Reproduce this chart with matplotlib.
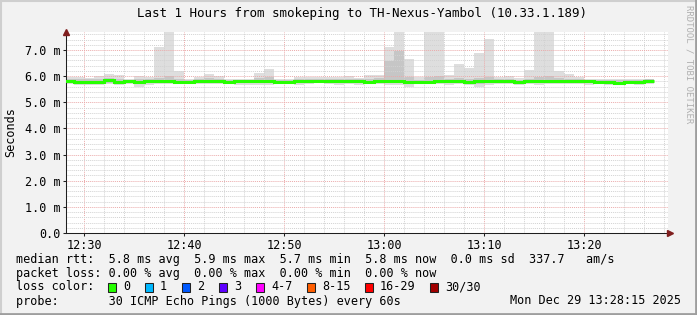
import numpy as np
import matplotlib.pyplot as plt
from matplotlib.lines import Line2D
from matplotlib.patches import Rectangle
from matplotlib.ticker import MultipleLocator

# one sample per minute, minutes counted from 12:30
start_min = np.arange(-2, 57)

# smoke: min/max of the 30 pings, plus the denser middle part
rtt_max = [5.95, 5.95, 5.93, 6.02, 6.08, 6.04, 5.88, 6.00, 5.95, 7.12,
           7.90, 6.20, 5.90, 5.96, 6.08, 6.02, 5.90, 5.88, 5.88, 6.12,
           6.28, 5.88, 5.90, 5.95, 5.97, 5.97, 5.97, 5.95, 6.00, 5.92,
           6.04, 6.06, 7.12, 7.90, 6.66, 5.95, 7.90, 7.90, 6.05, 6.46,
           6.31, 6.90, 7.42, 5.95, 6.00, 5.92, 6.24, 7.90, 7.90, 6.20,
           6.08, 5.96, 5.90, 5.90, 5.91, 5.88, 5.88, 5.90, 5.90]
rtt_hi = [5.88, 5.88, 5.88, 5.88, 5.92, 5.88, 5.87, 5.88, 5.88, 5.92,
          6.02, 5.90, 5.87, 5.88, 5.92, 5.88, 5.87, 5.87, 5.87, 5.92,
          5.95, 5.87, 5.87, 5.88, 5.90, 5.88, 5.88, 5.88, 5.90, 5.88,
          5.88, 5.92, 6.57, 6.95, 5.95, 5.87, 5.95, 6.00, 5.88, 5.92,
          5.88, 5.92, 5.95, 5.88, 5.88, 5.87, 5.90, 5.95, 6.00, 5.92,
          5.90, 5.88, 5.87, 5.87, 5.86, 5.84, 5.87, 5.87, 5.88]
rtt_med = [5.80, 5.78, 5.78, 5.79, 5.85, 5.77, 5.80, 5.79, 5.80, 5.80,
           5.80, 5.78, 5.79, 5.80, 5.80, 5.80, 5.79, 5.80, 5.80, 5.80,
           5.81, 5.79, 5.78, 5.80, 5.80, 5.81, 5.80, 5.80, 5.81, 5.80,
           5.79, 5.80, 5.80, 5.81, 5.79, 5.78, 5.79, 5.80, 5.80, 5.80,
           5.79, 5.80, 5.80, 5.80, 5.80, 5.79, 5.80, 5.82, 5.82, 5.82,
           5.82, 5.80, 5.80, 5.79, 5.77, 5.74, 5.78, 5.79, 5.80]
rtt_lo = [5.74, 5.73, 5.73, 5.73, 5.75, 5.72, 5.74, 5.72, 5.74, 5.74,
          5.74, 5.73, 5.74, 5.74, 5.74, 5.74, 5.74, 5.72, 5.72, 5.74,
          5.73, 5.74, 5.73, 5.74, 5.74, 5.75, 5.74, 5.74, 5.74, 5.73,
          5.74, 5.74, 5.74, 5.74, 5.70, 5.74, 5.74, 5.74, 5.74, 5.74,
          5.74, 5.70, 5.73, 5.74, 5.74, 5.73, 5.74, 5.75, 5.75, 5.75,
          5.75, 5.74, 5.74, 5.73, 5.71, 5.69, 5.73, 5.73, 5.74]
rtt_min = [5.70, 5.68, 5.68, 5.66, 5.70, 5.66, 5.70, 5.58, 5.68, 5.70,
           5.70, 5.70, 5.72, 5.70, 5.70, 5.70, 5.70, 5.66, 5.66, 5.68,
           5.66, 5.70, 5.70, 5.68, 5.70, 5.72, 5.70, 5.68, 5.70, 5.66,
           5.70, 5.70, 5.68, 5.68, 5.60, 5.70, 5.72, 5.70, 5.68, 5.70,
           5.68, 5.60, 5.66, 5.70, 5.70, 5.66, 5.70, 5.68, 5.70, 5.70,
           5.70, 5.70, 5.68, 5.70, 5.66, 5.66, 5.70, 5.68, 5.70]

x_ticks = [0, 10, 20, 30, 40, 50]
x_labels = ['12:30', '12:40', '12:50', '13:00', '13:10', '13:20']
y_ticks = [0, 1, 2, 3, 4, 5, 6, 7]
y_labels = ['0.0', '1.0 m', '2.0 m', '3.0 m', '4.0 m', '5.0 m', '6.0 m', '7.0 m']

loss_labels = ['0', '1', '2', '3', '4-7', '8-15', '16-29', '30/30']
loss_colors = ['#26ff00', '#00b8ff', '#0059ff', '#5e00ff', '#ff00ff',
               '#ff5e00', '#ff0000', '#a10000']
loss_box_x = [108, 145, 182, 219, 256, 307, 365, 430]   # pixel columns

W, H = 697, 315
MONO = 'DejaVu Sans Mono'
FS = 8.5

fig = plt.figure(figsize=(W / 100, H / 100), dpi=100, facecolor='#f2f2f2')
ax = fig.add_axes([66 / W, (H - 233) / H, 602 / W, 201 / H])
ax.set_facecolor('white')
ax.set_xlim(-1.8, 58.4)
ax.set_ylim(0, 7.69)

lo_arr = np.array(rtt_min)
ax.bar(start_min, np.array(rtt_max) - lo_arr, bottom=lo_arr, width=1,
       align='edge', color='#dedede', linewidth=0)
ax.bar(start_min, np.array(rtt_hi) - np.array(rtt_lo), bottom=rtt_lo, width=1,
       align='edge', color='#c6c6c6', linewidth=0)
edges = np.append(start_min, start_min[-1] + 1)
ax.stairs(rtt_med, edges, baseline=None, color=loss_colors[0], linewidth=2.2,
          zorder=3)

# grid in rrdtool style: dotted, drawn over the smoke
ax.set_axisbelow('line')
ax.set_xticks(x_ticks)
ax.set_xticklabels(x_labels)
ax.set_yticks(y_ticks)
ax.set_yticklabels(y_labels)
ax.xaxis.set_minor_locator(MultipleLocator(2))
ax.yaxis.set_minor_locator(MultipleLocator(0.2))
ax.grid(which='minor', color='#d2d2d2', linestyle=(0, (1, 1)), linewidth=0.7)
ax.grid(which='major', color='#ebaaaa', linestyle=(0, (1, 1)), linewidth=0.7)
ax.tick_params(which='major', length=2, width=0.75, color='#1f1f1f', pad=2.2,
               labelsize=FS)
ax.tick_params(which='minor', length=0)
for lab in ax.get_xticklabels() + ax.get_yticklabels():
    lab.set_family(MONO)

for s in ['top', 'right']:
    ax.spines[s].set_visible(False)
for s in ['left', 'bottom']:
    ax.spines[s].set_color('#1f1f1f')
    ax.spines[s].set_linewidth(0.75)

# axis arrows
ax.plot([-1.8], [7.69], marker='^', markersize=5, color='#801f1f',
        clip_on=False, zorder=5)
ax.plot([58.6], [0], marker='>', markersize=5, color='#801f1f',
        clip_on=False, zorder=5)

def fy(ypx):
    return 1 - ypx / H

fig.text(362 / W, fy(13.5), 'Last 1 Hours from smokeping to TH-Nexus-Yambol (10.33.1.189)',
         ha='center', va='center', family=MONO, fontsize=9)
fig.text(11 / W, fy(132), 'Seconds', rotation=90, ha='center', va='center',
         family=MONO, fontsize=FS)
fig.text(689 / W, fy(5), 'RRDTOOL / TOBI OETIKER', rotation=270, ha='center',
         va='top', family=MONO, fontsize=6.5, color='#b0b0b0')

fig.text(16 / W, fy(259),
         'median rtt:  5.8 ms avg  5.9 ms max  5.7 ms min  5.8 ms now  0.0 ms sd  337.7   am/s',
         va='center', family=MONO, fontsize=FS)
fig.text(16 / W, fy(273),
         'packet loss: 0.00 % avg  0.00 % max  0.00 % min  0.00 % now',
         va='center', family=MONO, fontsize=FS)
fig.text(16 / W, fy(287), 'loss color:', va='center', family=MONO, fontsize=FS)
for bx, lab, col in zip(loss_box_x, loss_labels, loss_colors):
    fig.add_artist(Rectangle((bx / W, fy(291.5)), 8 / W, 9 / H,
                             transform=fig.transFigure, facecolor=col,
                             edgecolor='#222222', linewidth=0.75))
    fig.text((bx + 15) / W, fy(287), lab, va='center', family=MONO, fontsize=FS)
fig.text(16 / W, fy(301),
         'probe:       30 ICMP Echo Pings (1000 Bytes) every 60s',
         va='center', family=MONO, fontsize=FS)
fig.text(681 / W, fy(301), 'Mon Dec 29 13:28:15 2025', ha='right',
         va='center', family=MONO, fontsize=FS)

# 3d-ish frame round the image
fig.add_artist(Line2D([0, 1], [1 - 1 / H, 1 - 1 / H], transform=fig.transFigure,
                      color='#cfcfcf', linewidth=1.5))
fig.add_artist(Line2D([1 / W, 1 / W], [0, 1], transform=fig.transFigure,
                      color='#cfcfcf', linewidth=1.5))
fig.add_artist(Line2D([0, 1], [1.5 / H, 1.5 / H], transform=fig.transFigure,
                      color='#9e9e9e', linewidth=2))
fig.add_artist(Line2D([1 - 1.5 / W, 1 - 1.5 / W], [0, 1], transform=fig.transFigure,
                      color='#9e9e9e', linewidth=2))

fig.savefig('out.png', dpi=100, facecolor=fig.get_facecolor())
